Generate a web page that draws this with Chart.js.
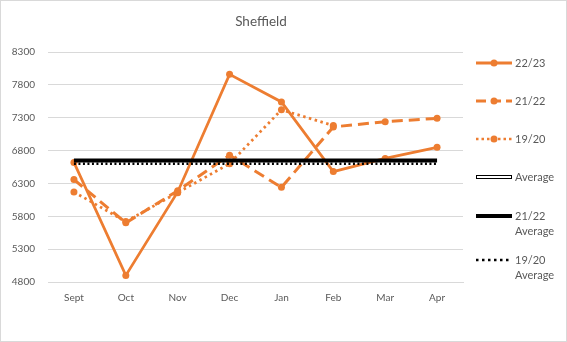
<!DOCTYPE html>
<html>
<head>
<meta charset="utf-8">
<script src="https://cdn.jsdelivr.net/npm/chart.js@4.4.0/dist/chart.umd.min.js"></script>
<style>
    body { margin: 0; background: #fff; }
    #wrap { position: relative; width: 567px; height: 342px; }
    #frame { position: absolute; left: 0; top: 0; width: 567px; height: 342px; box-sizing: border-box; border: 1px solid #d9d9d9; pointer-events: none; }
    #title { position: absolute; left: 161px; width: 200px; top: 12px; text-align: center; font-family: Lato, sans-serif; font-size: 13.5px; line-height: 18px; color: #595959; }
    #legend { position: absolute; left: 476px; top: 0; font-family: Lato, sans-serif; font-size: 11px; color: #595959; }
    .item { position: absolute; left: 0; height: 20px; white-space: nowrap; }
    .item svg { position: absolute; left: 0; top: 0; }
    .item span { position: absolute; left: 39px; top: 2px; line-height: 15px; }
</style>
</head>
<body>
<div id="wrap">
    <canvas id="chartLine" width="567" height="342"></canvas>
    <div id="title">Sheffield</div>
    <div id="legend"></div>
    <div id="frame"></div>
</div>
<script>
const months = ["Sept", "Oct", "Nov", "Dec", "Jan", "Feb", "Mar", "Apr"];
const yr2223 = [6620, 4900, 6170, 7960, 7540, 6480, 6680, 6850];
const yr2122 = [6360, 5700, 6190, 6730, 6240, 7160, 7240, 7290];
const yr1920 = [6170, 5720, 6160, 6600, 7420, 7180, null, null];
const avg2223 = [6650, 6650, 6650, 6650, 6650, 6650, 6650, 6650];
const avg2122 = [6650, 6650, 6650, 6650, 6650, 6650, 6650, 6650];
const avg1920 = [6600, 6600, 6600, 6600, 6600, 6600, 6600, 6600];

const orange = "#ED7D31";
const grey = "#595959";

function lineChart() {
    const dataLine = {
        labels: months,
        datasets: [
            {
                label: "22/23",
                data: yr2223,
                borderColor: orange,
                backgroundColor: orange,
                borderWidth: 2.75,
                pointRadius: 3.5,
                pointBorderWidth: 0,
                order: 5,
            },
            {
                label: "21/22",
                data: yr2122,
                borderColor: orange,
                backgroundColor: orange,
                borderWidth: 3,
                borderDash: [11, 6],
                pointRadius: 3.5,
                pointBorderWidth: 0,
                order: 6,
            },
            {
                label: "19/20",
                data: yr1920,
                borderColor: orange,
                backgroundColor: orange,
                borderWidth: 2.75,
                borderDash: [2.5, 3.5],
                pointRadius: 3.5,
                pointBorderWidth: 0,
                order: 7,
            },
            {
                label: "Average",
                data: avg2223,
                borderColor: "#ffffff",
                borderWidth: 2,
                pointRadius: 0,
                order: 8,
            },
            {
                label: "21/22 Average",
                data: avg2122,
                borderColor: "#000000",
                borderWidth: 4,
                pointRadius: 0,
                order: 1,
            },
            {
                label: "19/20 Average",
                data: avg1920,
                borderColor: "#000000",
                borderWidth: 2.5,
                borderDash: [2, 2.5],
                pointRadius: 0,
                order: 2,
            },
        ],
    };

    const tickFont = { family: "Lato", size: 10 };

    const configLine = {
        type: "line",
        data: dataLine,
        options: {
            responsive: false,
            animation: false,
            layout: { padding: { top: 52, right: 104, bottom: 28, left: 0 } },
            plugins: {
                legend: false,
                tooltip: false,
            },
            scales: {
                x: {
                    offset: true,
                    grid: { display: false, drawTicks: false },
                    border: { display: true, color: "#d9d9d9" },
                    ticks: { font: tickFont, color: grey, padding: 10, maxRotation: 0 },
                },
                y: {
                    min: 4800,
                    max: 8300,
                    grid: { color: "#d9d9d9", drawTicks: false },
                    border: { display: false },
                    ticks: {
                        stepSize: 500,
                        font: tickFont,
                        color: grey,
                        padding: 13,
                        callback: function (v) { return String(v); },
                    },
                    afterFit: function (s) { s.width = 48; },
                },
            },
        },
    };

    new Chart(document.getElementById("chartLine"), configLine);

    // legend drawn as html, Excel style (line + marker)
    const legendRows = [
        { y: 63, text: "22/23", color: orange, width: 3, dash: "", marker: true },
        { y: 101, text: "21/22", color: orange, width: 3, dash: "10,5", marker: true },
        { y: 139, text: "19/20", color: orange, width: 2.5, dash: "2.5,3", marker: true },
        { y: 177, text: "Average", color: "#000", width: 4, dash: "", inner: "#fff" },
        { y: 216, text: "21/22<br>Average", color: "#000", width: 4, dash: "" },
        { y: 260, text: "19/20<br>Average", color: "#000", width: 2.5, dash: "2.5,3.5" },
    ];
    var html = "";
    legendRows.forEach(function (r) {
        var svg = '<svg width="37" height="20">' +
            '<line x1="0" y1="10" x2="36" y2="10" stroke="' + r.color + '" stroke-width="' + r.width + '"' +
            (r.dash ? ' stroke-dasharray="' + r.dash + '"' : '') + '/>';
        if (r.inner) svg += '<line x1="1" y1="10" x2="35" y2="10" stroke="' + r.inner + '" stroke-width="2"/>';
        if (r.marker) svg += '<circle cx="18" cy="10" r="3.5" fill="' + r.color + '"/>';
        svg += '</svg>';
        html += '<div class="item" style="top:' + (r.y - 10) + 'px">' + svg + '<span>' + r.text + '</span></div>';
    });
    document.getElementById("legend").innerHTML = html;
}

lineChart();
</script>
</body>
</html>
